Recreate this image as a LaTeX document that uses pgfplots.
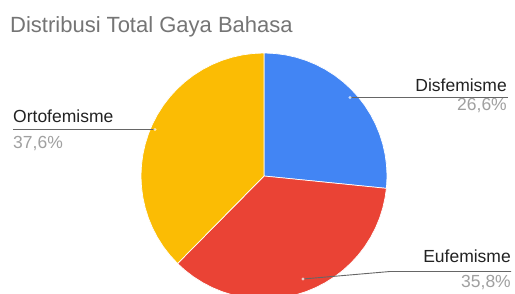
\documentclass[border=0pt]{standalone}
\usepackage{fontspec}
\setmainfont{Liberation Sans}
\usepackage{pgfplots}
\pgfplotsset{compat=1.18}
\usepgfplotslibrary{polar}
\definecolor{gblue}{HTML}{4285F4}
\definecolor{gred}{HTML}{EA4335}
\definecolor{gyellow}{HTML}{FBBC04}
\definecolor{titlegray}{HTML}{757575}
\definecolor{labgray}{HTML}{222222}
\definecolor{pctgray}{HTML}{A0A0A0}
\definecolor{linegray}{HTML}{666666}
\begin{document}
\begin{tikzpicture}
\clip (0pt,0pt) rectangle (515pt,293pt);
\fill[white] (0pt,0pt) rectangle (515pt,293pt);
\begin{axis}[
  hide axis, x=123pt, y=123pt,
  xmin=-1, xmax=1, ymin=-1, ymax=1,
  anchor=origin, at={(264pt,117pt)},
  clip=false, enlargelimits=false,
]
% Disfemisme 26.6% : 90 -> -5.76
\addplot[data cs=polar, fill=gblue, draw=white, line width=0.7pt] coordinates {
(0,0) (90,1) (85,1) (80,1) (75,1) (70,1) (65,1) (60,1) (55,1) (50,1) (45,1)
(40,1) (35,1) (30,1) (25,1) (20,1) (15,1) (10,1) (5,1) (0,1) (-5,1) (-5.76,1) (0,0)};
% Eufemisme 35.8% : -5.76 -> -134.64
\addplot[data cs=polar, fill=gred, draw=white, line width=0.7pt] coordinates {
(0,0) (-5.76,1) (-10,1) (-15,1) (-20,1) (-25,1) (-30,1) (-35,1) (-40,1) (-45,1)
(-50,1) (-55,1) (-60,1) (-65,1) (-70,1) (-75,1) (-80,1) (-85,1) (-90,1) (-95,1)
(-100,1) (-105,1) (-110,1) (-115,1) (-120,1) (-125,1) (-130,1) (-134.64,1) (0,0)};
% Ortofemisme 37.6% : -134.64 -> -270
\addplot[data cs=polar, fill=gyellow, draw=white, line width=0.7pt] coordinates {
(0,0) (-134.64,1) (-140,1) (-145,1) (-150,1) (-155,1) (-160,1) (-165,1) (-170,1)
(-175,1) (-180,1) (-185,1) (-190,1) (-195,1) (-200,1) (-205,1) (-210,1) (-215,1)
(-220,1) (-225,1) (-230,1) (-235,1) (-240,1) (-245,1) (-250,1) (-255,1) (-260,1)
(-265,1) (-270,1) (0,0)};
\end{axis}
% title
\node[anchor=base west, inner sep=0pt, text=titlegray, font=\fontsize{22}{26}\selectfont] at (10pt,261pt) {Distribusi Total Gaya Bahasa};
% Ortofemisme
\draw[linegray, line width=0.9pt] (13pt,163.5pt) -- (155pt,163.5pt);
\fill[white, opacity=0.7] (155pt,163.5pt) circle (1.6pt);
\node[anchor=base west, inner sep=0pt, text=labgray, font=\fontsize{17.5}{20}\selectfont] at (13pt,171pt) {Ortofemisme};
\node[anchor=base west, inner sep=0pt, text=pctgray, font=\fontsize{17.5}{20}\selectfont] at (13pt,145pt) {37,6\%};
% Disfemisme
\draw[linegray, line width=0.9pt] (350pt,195.5pt) -- (508pt,195.5pt);
\fill[white, opacity=0.7] (350pt,195.5pt) circle (1.6pt);
\node[anchor=base east, inner sep=0pt, text=labgray, font=\fontsize{17.5}{20}\selectfont] at (507pt,202pt) {Disfemisme};
\node[anchor=base east, inner sep=0pt, text=pctgray, font=\fontsize{17.5}{20}\selectfont] at (507pt,183pt) {26,6\%};
% Eufemisme
\draw[linegray, line width=0.9pt] (303pt,14pt) -- (390pt,21.5pt) -- (511pt,21.5pt);
\fill[white, opacity=0.7] (303pt,14pt) circle (1.6pt);
\node[anchor=base east, inner sep=0pt, text=labgray, font=\fontsize{17.5}{20}\selectfont] at (511pt,31pt) {Eufemisme};
\node[anchor=base east, inner sep=0pt, text=pctgray, font=\fontsize{17.5}{20}\selectfont] at (511pt,6pt) {35,8\%};
\end{tikzpicture}
\end{document}
